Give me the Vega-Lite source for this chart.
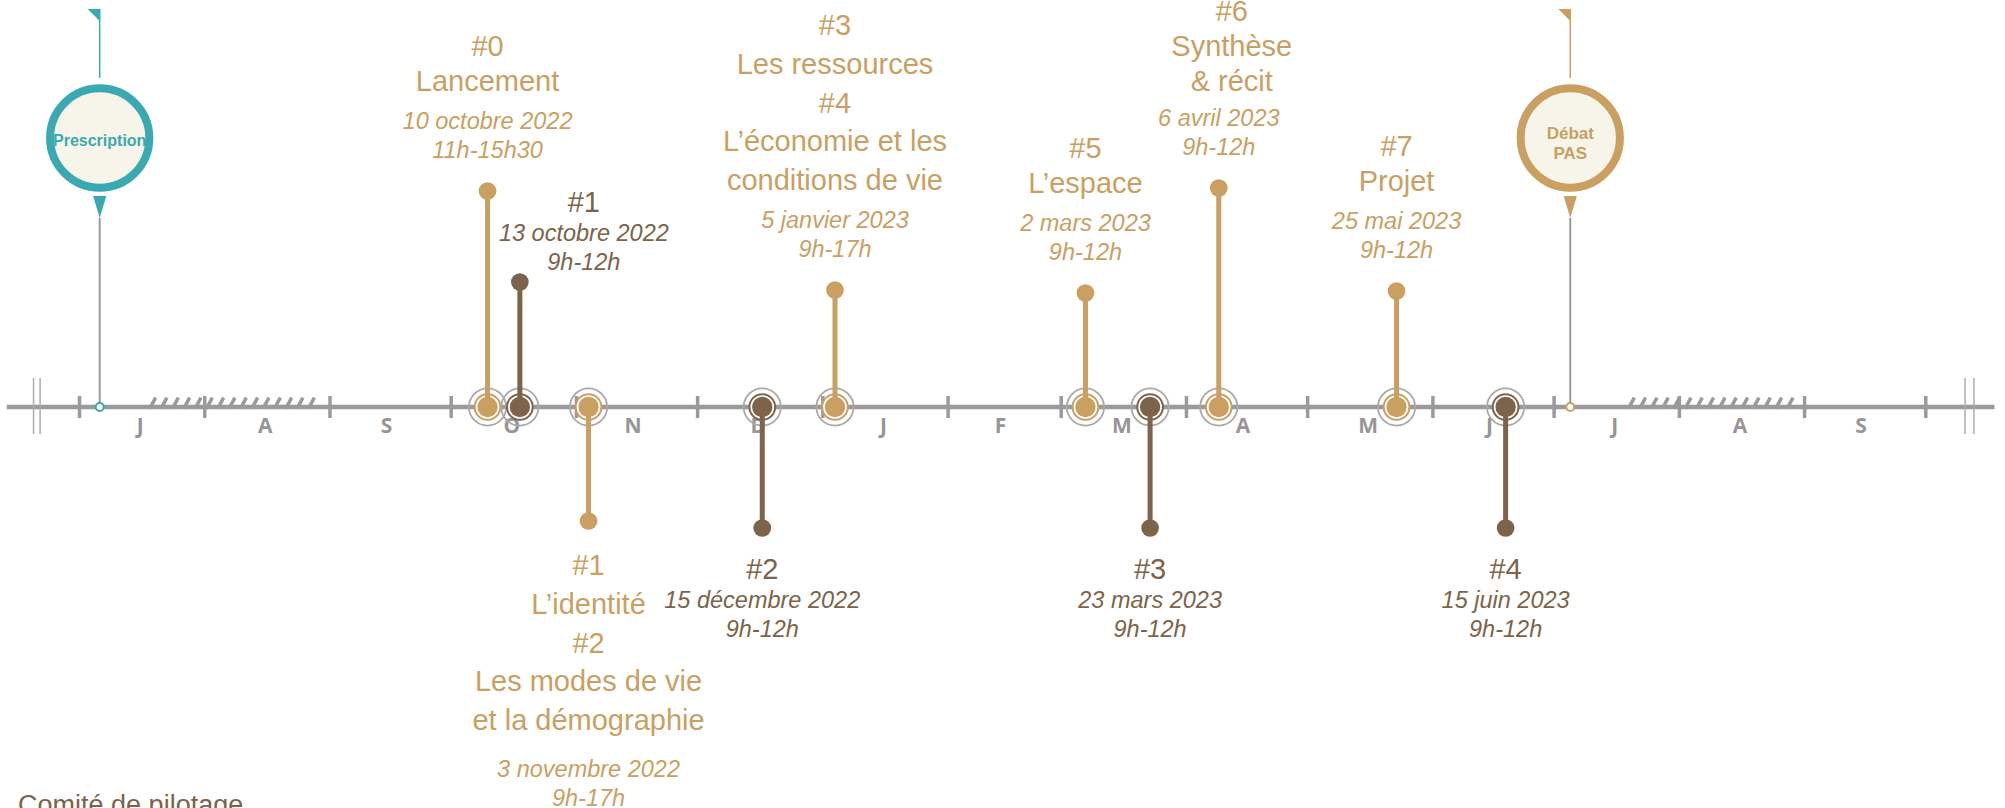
{
"$schema":"https://vega.github.io/schema/vega-lite/v6.json",
"width":2005,"height":808,"padding":0,"autosize":{"type":"none"},
"background":"white",
"config":{"view":{"stroke":null},"text":{"font":"Liberation Sans"}},
"datasets":{
 "ligne":[{"date":"2022-06-13","fin":"2023-10-18"}],
 "etes":[{"date":"2022-08-08T05:00:00Z"},{"date":"2023-08-09T05:00:00Z"}],
 "reperes":[{"date":"2022-07-01"},{"date":"2022-08-01"},{"date":"2022-09-01"},{"date":"2022-10-01"},{"date":"2022-11-01"},{"date":"2022-12-01"},{"date":"2023-01-01"},{"date":"2023-02-01"},{"date":"2023-03-01"},{"date":"2023-04-01"},{"date":"2023-05-01"},{"date":"2023-06-01"},{"date":"2023-07-01"},{"date":"2023-08-01"},{"date":"2023-09-01"},{"date":"2023-10-01"}],
 "coupures":[{"date":"2022-06-19T15:00:00Z"},{"date":"2022-06-21T06:00:00Z"},{"date":"2023-10-10T17:00:00Z"},{"date":"2023-10-12T22:00:00Z"}],
 "mois":[{"date":"2022-07-16","lettre":"J"},{"date":"2022-08-16","lettre":"A"},{"date":"2022-09-15","lettre":"S"},{"date":"2022-10-16","lettre":"O"},{"date":"2022-11-15","lettre":"N"},{"date":"2022-12-16","lettre":"D"},{"date":"2023-01-16","lettre":"J"},{"date":"2023-02-14","lettre":"F"},{"date":"2023-03-16","lettre":"M"},{"date":"2023-04-15","lettre":"A"},{"date":"2023-05-16","lettre":"M"},{"date":"2023-06-15","lettre":"J"},{"date":"2023-07-16","lettre":"J"},{"date":"2023-08-16","lettre":"A"},{"date":"2023-09-15","lettre":"S"}],
 "evenements":[
  {"type":"Atelier","date":"2022-10-10","h":216,"nb":1,"titre":["#0","Lancement"],"quand":["10 octobre 2022","11h-15h30"]},
  {"type":"Comité de pilotage","date":"2022-10-18","h":125,"nb":1,"titre":["#1"],"quand":["13 octobre 2022","9h-12h"]},
  {"type":"Atelier","date":"2022-11-04","h":-114,"nb":2,"titre":["#1","L’identité","#2","Les modes de vie","et la démographie"],"quand":["3 novembre 2022","9h-17h"]},
  {"type":"Comité de pilotage","date":"2022-12-17","h":-121,"nb":1,"titre":["#2"],"quand":["15 décembre 2022","9h-12h"]},
  {"type":"Atelier","date":"2023-01-04","h":117,"nb":2,"titre":["#3","Les ressources","#4","L’économie et les","conditions de vie"],"quand":["5 janvier 2023","9h-17h"]},
  {"type":"Atelier","date":"2023-03-07","h":114,"nb":1,"titre":["#5","L’espace"],"quand":["2 mars 2023","9h-12h"]},
  {"type":"Comité de pilotage","date":"2023-03-23","h":-121,"nb":1,"titre":["#3"],"quand":["23 mars 2023","9h-12h"]},
  {"type":"Atelier","date":"2023-04-09","h":219,"nb":1,"titre":["#6","Synthèse","& récit"],"quand":["6 avril 2023","9h-12h"]},
  {"type":"Atelier","date":"2023-05-23","h":116,"nb":1,"titre":["#7","Projet"],"quand":["25 mai 2023","9h-12h"]},
  {"type":"Comité de pilotage","date":"2023-06-19","h":-121,"nb":1,"titre":["#4"],"quand":["15 juin 2023","9h-12h"]}
 ],
 "jalons":[{"type":"Prescription","date":"2022-07-06","libelle":["Prescription"]},{"type":"Débat PAS","date":"2023-07-05","libelle":["Débat","PAS"]}],
 "legende":[{"type":"Comité de pilotage","libelle":"Comité de pilotage"}]
},
"layer":[
 {"data":{"name":"ligne"},"mark":{"type":"rule","strokeWidth":4.5,"color":"#9B9999"},"encoding":{"x":{"field":"date","type":"temporal","scale":{"type":"utc","domain":[1654933420800,1697812617600]},"axis":null},"x2":{"field":"fin"},"y":{"datum":0,"type":"quantitative","scale":{"domain":[-401,407],"nice":false,"zero":false},"axis":null}}},
 {"data":{"name":"etes"},"mark":{"type":"point","shape":"M-0.99,0.02L-0.92,-0.11M-0.857,0.02L-0.787,-0.11M-0.723,0.02L-0.653,-0.11M-0.59,0.02L-0.52,-0.11M-0.457,0.02L-0.387,-0.11M-0.323,0.02L-0.253,-0.11M-0.19,0.02L-0.12,-0.11M-0.057,0.02L0.013,-0.11M0.077,0.02L0.147,-0.11M0.21,0.02L0.28,-0.11M0.343,0.02L0.413,-0.11M0.477,0.02L0.547,-0.11M0.61,0.02L0.68,-0.11M0.743,0.02L0.813,-0.11M0.877,0.02L0.947,-0.11","size":28900,"strokeWidth":3.5,"color":"#9B9999","opacity":1,"filled":false},"encoding":{"x":{"field":"date","type":"temporal","axis":null},"y":{"datum":0,"type":"quantitative","axis":null}}},
 {"data":{"name":"reperes"},"mark":{"type":"rule","strokeWidth":3.5,"color":"#9B9999"},"encoding":{"x":{"field":"date","type":"temporal","axis":null},"y":{"datum":11,"type":"quantitative","axis":null},"y2":{"datum":-11}}},
 {"data":{"name":"coupures"},"mark":{"type":"rule","strokeWidth":1.5,"color":"#AEACAC"},"encoding":{"x":{"field":"date","type":"temporal","axis":null},"y":{"datum":29,"type":"quantitative","axis":null},"y2":{"datum":-27}}},
 {"data":{"name":"mois"},"mark":{"type":"text","font":"Open Sans","fontWeight":"bold","fontSize":21,"color":"#979595","baseline":"middle","align":"center"},"encoding":{"x":{"field":"date","type":"temporal","axis":null},"y":{"datum":-20,"type":"quantitative","axis":null},"text":{"field":"lettre","type":"nominal"}}},
 {"data":{"name":"evenements"},"mark":{"type":"point","shape":"circle","filled":false,"size":1385,"stroke":"#ABA8A8","strokeWidth":1.8,"opacity":1},"encoding":{"x":{"field":"date","type":"temporal","axis":null},"y":{"datum":0,"type":"quantitative","axis":null}}},
 {"data":{"name":"evenements"},"mark":{"type":"point","shape":"circle","filled":true,"fill":"white","size":660,"strokeWidth":2,"opacity":1},"encoding":{"x":{"field":"date","type":"temporal","axis":null},"y":{"datum":0,"type":"quantitative","axis":null},"stroke":{"field":"type","type":"nominal","scale":{"domain":["Atelier","Comité de pilotage","Prescription","Débat PAS"],"range":["#C99F62","#7C6349","#3AA9B1","#C99F62"]},"legend":null}}},
 {"data":{"name":"evenements"},"mark":{"type":"rule","strokeWidth":5},"encoding":{"x":{"field":"date","type":"temporal","axis":null},"y":{"field":"h","type":"quantitative","scale":{"domain":[-401,407],"nice":false,"zero":false},"axis":null},"y2":{"datum":0},"color":{"field":"type","type":"nominal","scale":{"domain":["Atelier","Comité de pilotage","Prescription","Débat PAS"],"range":["#C99F62","#7C6349","#3AA9B1","#C99F62"]},"legend":null}}},
 {"data":{"name":"evenements"},"mark":{"type":"circle","size":415,"opacity":1},"encoding":{"x":{"field":"date","type":"temporal","axis":null},"y":{"datum":0,"type":"quantitative","axis":null},"color":{"field":"type","type":"nominal","legend":null}}},
 {"data":{"name":"evenements"},"mark":{"type":"circle","size":314,"opacity":1},"encoding":{"x":{"field":"date","type":"temporal","axis":null},"y":{"field":"h","type":"quantitative","axis":null},"color":{"field":"type","type":"nominal","legend":null}}},
 {"data":{"name":"evenements"},"transform":[{"filter":"datum.h > 0 && datum.type == 'Atelier' && length(datum.titre) == 2"}],"mark":{"type":"text","fontSize":29,"baseline":"bottom","align":"center","dy":-129,"lineHeight":35},"encoding":{"x":{"field":"date","type":"temporal","axis":null},"y":{"field":"h","type":"quantitative","axis":null},"text":{"field":"titre","type":"nominal"},"color":{"field":"type","type":"nominal","legend":null}}},
 {"data":{"name":"evenements"},"transform":[{"filter":"datum.h > 0 && datum.type == 'Atelier' && length(datum.titre) == 3"}],"mark":{"type":"text","fontSize":29,"baseline":"bottom","align":"center","dx":13,"dy":-161,"lineHeight":35},"encoding":{"x":{"field":"date","type":"temporal","axis":null},"y":{"field":"h","type":"quantitative","axis":null},"text":{"field":"titre","type":"nominal"},"color":{"field":"type","type":"nominal","legend":null}}},
 {"data":{"name":"evenements"},"transform":[{"filter":"datum.h > 0 && length(datum.titre) == 5"}],"mark":{"type":"text","fontSize":29,"baseline":"bottom","align":"center","dy":-249,"lineHeight":38.75},"encoding":{"x":{"field":"date","type":"temporal","axis":null},"y":{"field":"h","type":"quantitative","axis":null},"text":{"field":"titre","type":"nominal"},"color":{"field":"type","type":"nominal","legend":null}}},
 {"data":{"name":"evenements"},"transform":[{"filter":"datum.h > 0 && datum.type != 'Atelier'"}],"mark":{"type":"text","fontSize":29,"baseline":"bottom","align":"center","dx":64,"dy":-64,"lineHeight":35},"encoding":{"x":{"field":"date","type":"temporal","axis":null},"y":{"field":"h","type":"quantitative","axis":null},"text":{"field":"titre","type":"nominal"},"color":{"field":"type","type":"nominal","legend":null}}},
 {"data":{"name":"evenements"},"transform":[{"filter":"datum.h < 0 && datum.nb == 2"}],"mark":{"type":"text","fontSize":29,"baseline":"top","align":"center","dy":31,"lineHeight":38.75},"encoding":{"x":{"field":"date","type":"temporal","axis":null},"y":{"field":"h","type":"quantitative","axis":null},"text":{"field":"titre","type":"nominal"},"color":{"field":"type","type":"nominal","legend":null}}},
 {"data":{"name":"evenements"},"transform":[{"filter":"datum.h < 0 && datum.nb == 1"}],"mark":{"type":"text","fontSize":29,"baseline":"top","align":"center","dy":28,"lineHeight":35},"encoding":{"x":{"field":"date","type":"temporal","axis":null},"y":{"field":"h","type":"quantitative","axis":null},"text":{"field":"titre","type":"nominal"},"color":{"field":"type","type":"nominal","legend":null}}},
 {"data":{"name":"evenements"},"transform":[{"filter":"datum.h > 0 && datum.type == 'Atelier'"}],"mark":{"type":"text","fontSize":23.5,"fontStyle":"italic","baseline":"bottom","align":"center","dy":-57,"lineHeight":29},"encoding":{"x":{"field":"date","type":"temporal","axis":null},"y":{"field":"h","type":"quantitative","axis":null},"text":{"field":"quand","type":"nominal"},"color":{"field":"type","type":"nominal","legend":null}}},
 {"data":{"name":"evenements"},"transform":[{"filter":"datum.h > 0 && datum.type != 'Atelier'"}],"mark":{"type":"text","fontSize":23.5,"fontStyle":"italic","baseline":"bottom","align":"center","dx":64,"dy":-36,"lineHeight":29},"encoding":{"x":{"field":"date","type":"temporal","axis":null},"y":{"field":"h","type":"quantitative","axis":null},"text":{"field":"quand","type":"nominal"},"color":{"field":"type","type":"nominal","legend":null}}},
 {"data":{"name":"evenements"},"transform":[{"filter":"datum.h < 0 && datum.nb == 1"}],"mark":{"type":"text","fontSize":23.5,"fontStyle":"italic","baseline":"top","align":"center","dy":61,"lineHeight":29},"encoding":{"x":{"field":"date","type":"temporal","axis":null},"y":{"field":"h","type":"quantitative","axis":null},"text":{"field":"quand","type":"nominal"},"color":{"field":"type","type":"nominal","legend":null}}},
 {"data":{"name":"evenements"},"transform":[{"filter":"datum.h < 0 && datum.nb == 2"}],"mark":{"type":"text","fontSize":23.5,"fontStyle":"italic","baseline":"top","align":"center","dy":237,"lineHeight":29},"encoding":{"x":{"field":"date","type":"temporal","axis":null},"y":{"field":"h","type":"quantitative","axis":null},"text":{"field":"quand","type":"nominal"},"color":{"field":"type","type":"nominal","legend":null}}},
 {"data":{"name":"jalons"},"mark":{"type":"rule","strokeWidth":1.5},"encoding":{"x":{"field":"date","type":"temporal","axis":null},"y":{"datum":329,"type":"quantitative","axis":null},"y2":{"datum":398},"color":{"field":"type","type":"nominal","legend":null}}},
 {"data":{"name":"jalons"},"mark":{"type":"point","shape":"M-2,-1L0,-1L0,1Z","filled":true,"size":144,"opacity":1},"encoding":{"x":{"field":"date","type":"temporal","axis":null},"y":{"datum":392,"type":"quantitative","axis":null},"color":{"field":"type","type":"nominal","legend":null}}},
 {"data":{"name":"jalons"},"mark":{"type":"rule","strokeWidth":2,"color":"#9B9999"},"encoding":{"x":{"field":"date","type":"temporal","axis":null},"y":{"datum":189,"type":"quantitative","axis":null},"y2":{"datum":0}}},
 {"data":{"name":"jalons"},"mark":{"type":"point","shape":"M-0.6,-1L0.6,-1L0,1Z","filled":true,"size":484,"opacity":1},"encoding":{"x":{"field":"date","type":"temporal","axis":null},"y":{"datum":200,"type":"quantitative","axis":null},"color":{"field":"type","type":"nominal","legend":null}}},
 {"data":{"name":"jalons"},"mark":{"type":"point","shape":"circle","filled":true,"fill":"#F7F5EA","size":9852,"strokeWidth":8,"opacity":1},"encoding":{"x":{"field":"date","type":"temporal","axis":null},"y":{"datum":269,"type":"quantitative","axis":null},"stroke":{"field":"type","type":"nominal","legend":null}}},
 {"data":{"name":"jalons"},"mark":{"type":"point","shape":"circle","filled":true,"fill":"white","size":64,"strokeWidth":2,"opacity":1},"encoding":{"x":{"field":"date","type":"temporal","axis":null},"y":{"datum":0,"type":"quantitative","axis":null},"stroke":{"field":"type","type":"nominal","legend":null}}},
 {"data":{"name":"jalons"},"transform":[{"filter":"length(datum.libelle) == 1"}],"mark":{"type":"text","fontWeight":"bold","fontSize":16,"baseline":"middle","align":"center","lineHeight":20},"encoding":{"x":{"field":"date","type":"temporal","axis":null},"y":{"datum":266,"type":"quantitative","axis":null},"text":{"field":"libelle","type":"nominal"},"color":{"field":"type","type":"nominal","legend":null}}},
 {"data":{"name":"jalons"},"transform":[{"filter":"length(datum.libelle) == 2"}],"mark":{"type":"text","fontWeight":"bold","fontSize":17,"baseline":"middle","align":"center","lineHeight":20},"encoding":{"x":{"field":"date","type":"temporal","axis":null},"y":{"datum":273,"type":"quantitative","axis":null},"text":{"field":"libelle","type":"nominal"},"color":{"field":"type","type":"nominal","legend":null}}},
 {"data":{"name":"legende"},"mark":{"type":"text","fontSize":27,"baseline":"top","align":"left"},"encoding":{"x":{"datum":{"year":2022,"month":6,"date":15,"hours":19,"utc":true},"type":"temporal","axis":null},"y":{"datum":-386,"type":"quantitative","axis":null},"text":{"field":"libelle","type":"nominal"},"color":{"field":"type","type":"nominal","legend":null}}}
]
}
